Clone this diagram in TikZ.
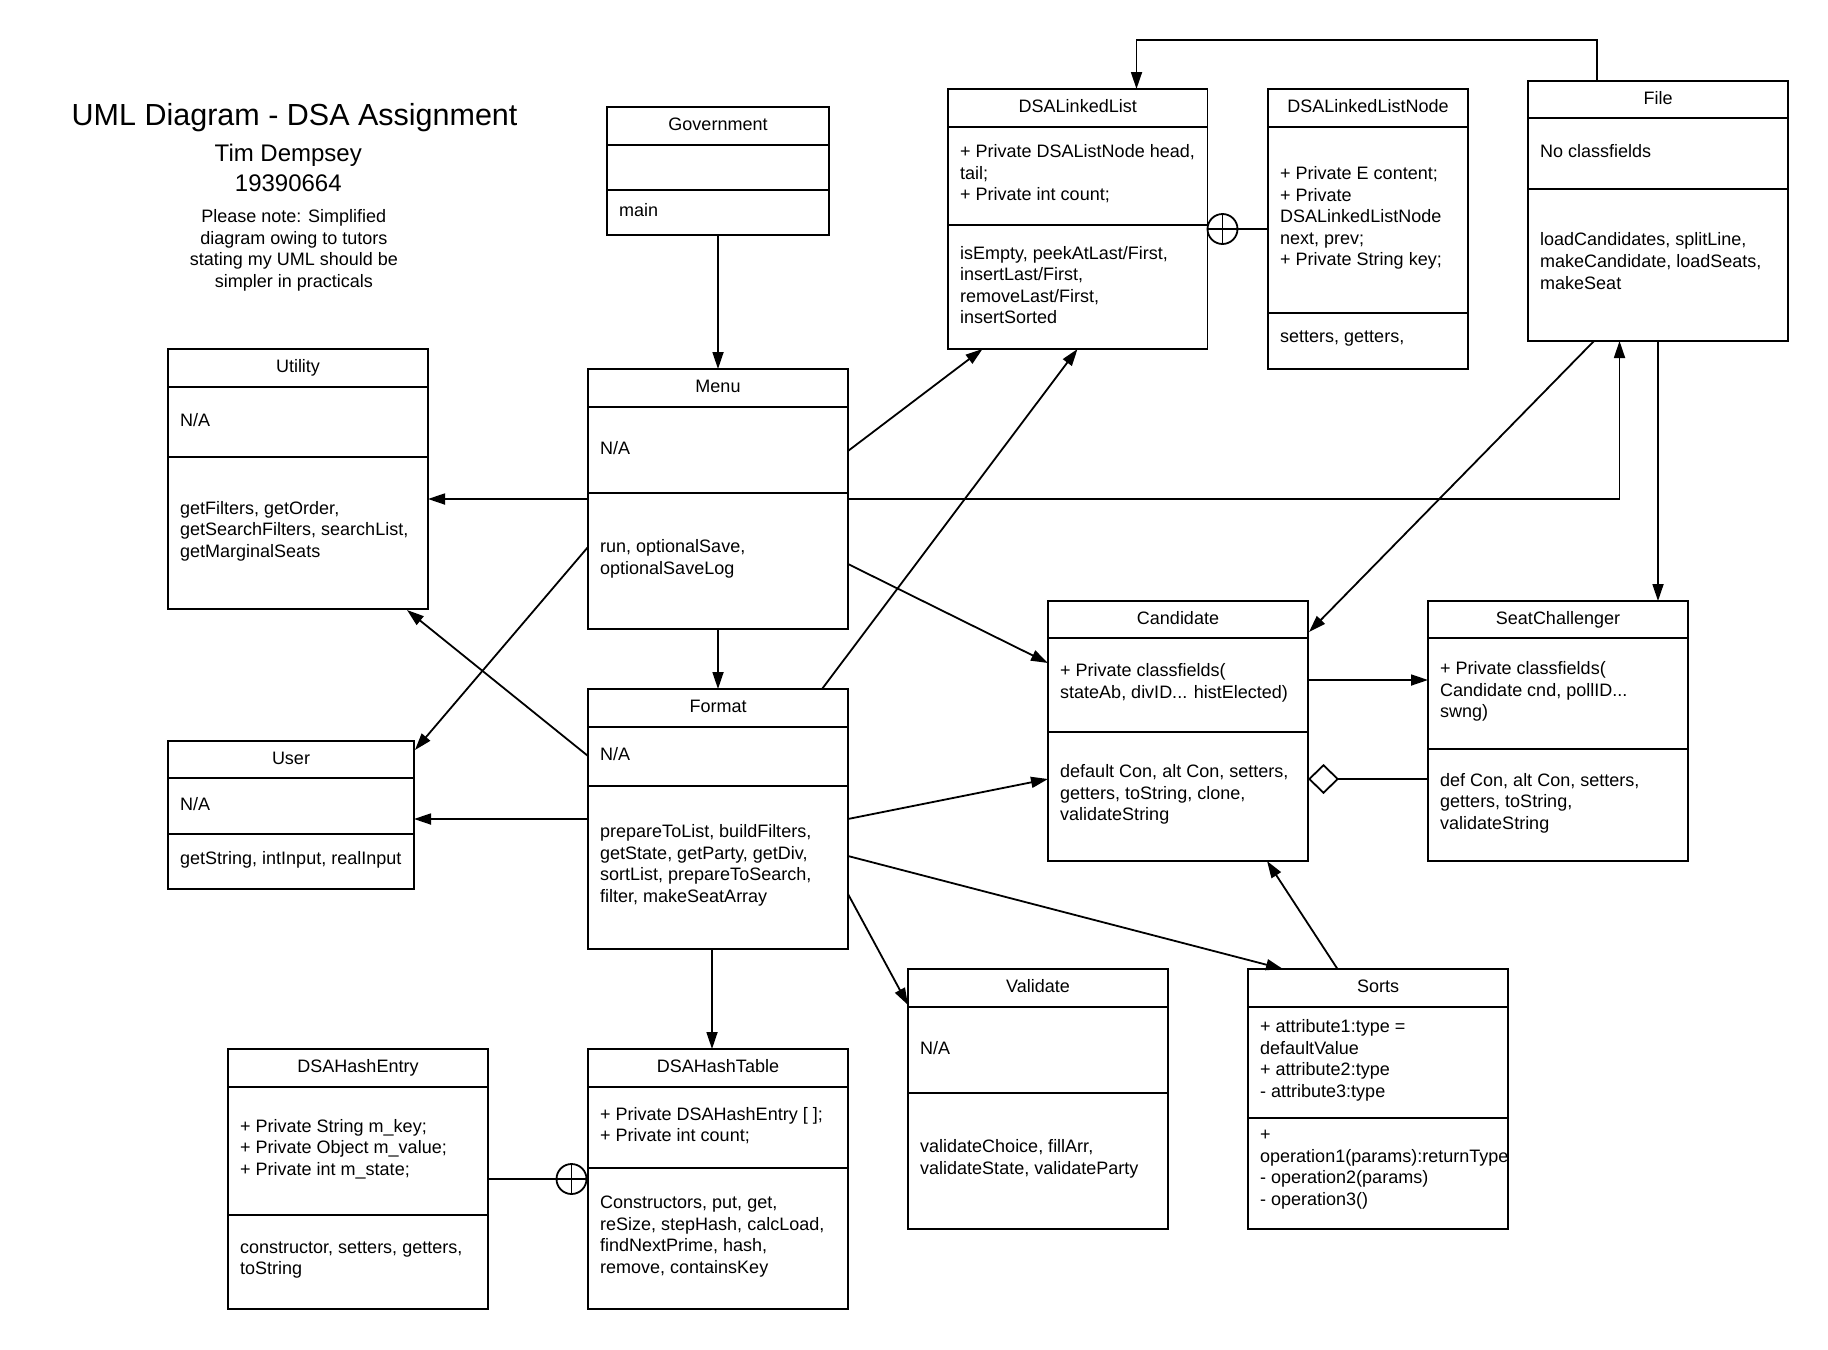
\documentclass[tikz,border=0pt]{standalone}
\usepackage{fontspec}
\setmainfont{Liberation Sans}
\usetikzlibrary{arrows.meta,calc}

\newcommand{\bodyfont}{\fontsize{18pt}{21.6pt}\selectfont}

\tikzset{
  classbox/.style={draw, line width=1.8pt, inner sep=0pt, outer sep=0pt, anchor=north west},
  divider/.style={line width=1.8pt},
  header/.style={font=\bodyfont, inner sep=0pt, text height=13pt, text depth=4pt},
  comptext/.style={font=\bodyfont, inner sep=0pt, anchor=west, align=left},
  conn/.style={line width=1.8pt},
  arr/.style={conn, -{Triangle[length=17pt,width=11pt]}},
  aggr/.style={conn, -{Diamond[open,length=31pt,width=30pt]}},
  nest/.style={draw, circle, line width=1.8pt, minimum size=30pt, inner sep=0pt, fill=white,
    path picture={\draw[line width=1.8pt]
      (path picture bounding box.north) -- (path picture bounding box.south)
      (path picture bounding box.west) -- (path picture bounding box.east);}},
  titletext/.style={anchor=base, inner sep=0pt}
}

% class box: name, x1, y1, x2, y2, first divider, second divider, class name
\newcommand{\umlclass}[8]{%
  \node[classbox, minimum width={(#4-#2)*1pt}, minimum height={(#5-#3)*1pt}] (#1) at (#2,#3) {};
  \draw[divider] (#2,#6) -- (#4,#6) (#2,#7) -- (#4,#7);
  \node[header] (#1-name) at ({(#2+#4)/2},{(#3+#6)/2}) {#8};
}
% compartment text: name, left x of box, top y, bottom y, text
\newcommand{\compart}[5]{%
  \node[comptext] (#1) at ({#2+12},{(#3+#4)/2-2}) {#5};
}

\begin{document}
\begin{tikzpicture}[x=1pt, y=-1pt]
\fill[white] (0,0) rectangle (1828,1349);
\useasboundingbox (0,0) rectangle (1828,1349);

% heading and note
\node[titletext, font=\fontsize{30.5pt}{36pt}\selectfont] (title) at (294.6,125) {UML Diagram - DSA Assignment};
\node[titletext, font=\fontsize{24pt}{29pt}\selectfont] (author) at (288.3,161.5) {Tim Dempsey};
\node[titletext, font=\fontsize{24pt}{29pt}\selectfont] (sid) at (288.3,191) {19390664};
\node[titletext, font=\bodyfont] (note1) at (293.8,222.5) {Please note: Simplified};
\node[titletext, font=\bodyfont] (note2) at (293.8,244) {diagram owing to tutors};
\node[titletext, font=\bodyfont] (note3) at (293.8,265.5) {stating my UML should be};
\node[titletext, font=\bodyfont] (note4) at (293.8,287) {simpler in practicals};

% classes
\umlclass{gov}{607}{107}{829}{235}{145}{190}{Government}
\compart{gov-m}{607}{190}{235}{main}

\umlclass{dll}{948}{89}{1207.5}{349}{127}{225}{DSALinkedList}
\compart{dll-a}{948}{127}{225}{+ Private DSAListNode head,\\tail;\\+ Private int count;}
\compart{dll-m}{948}{225}{349}{isEmpty, peekAtLast/First,\\insertLast/First,\\removeLast/First,\\insertSorted}

\umlclass{dlln}{1268}{89}{1468}{369}{127}{313}{DSALinkedListNode}
\compart{dlln-a}{1268}{127}{313}{+ Private E content;\\+ Private\\DSALinkedListNode\\next, prev;\\+ Private String key;}
\compart{dlln-m}{1268}{313}{369}{setters, getters,}

\umlclass{file}{1528}{81}{1788}{341}{118}{189}{File}
\compart{file-a}{1528}{118}{189}{No classfields}
\compart{file-m}{1528}{189}{337}{loadCandidates, splitLine,\\makeCandidate, loadSeats,\\makeSeat}

\umlclass{util}{168}{349}{428}{609}{387}{457}{Utility}
\compart{util-a}{168}{387}{457}{N/A}
\compart{util-m}{168}{457}{609}{getFilters, getOrder,\\getSearchFilters, searchList,\\getMarginalSeats}

\umlclass{menu}{588}{369}{848}{629}{407}{493}{Menu}
\compart{menu-a}{588}{407}{493}{N/A}
\compart{menu-m}{588}{493}{629}{run, optionalSave,\\optionalSaveLog}

\umlclass{format}{588}{689}{848}{949}{727}{786}{Format}
\compart{format-a}{588}{727}{786}{N/A}
\compart{format-m}{588}{786}{949}{prepareToList, buildFilters,\\getState, getParty, getDiv,\\sortList, prepareToSearch,\\filter, makeSeatArray}

\umlclass{user}{168}{741}{414}{889}{778}{834}{User}
\compart{user-a}{168}{778}{834}{N/A}
\compart{user-m}{168}{834}{889}{getString, intInput, realInput}

\umlclass{cand}{1048}{601}{1308}{861}{638}{732}{Candidate}
\compart{cand-a}{1048}{638}{732}{+ Private classfields(\\stateAb, divID... histElected)}
\compart{cand-m}{1048}{732}{861}{default Con, alt Con, setters,\\getters, toString, clone,\\validateString}

\umlclass{seat}{1428}{601}{1688}{861}{638}{749}{SeatChallenger}
\compart{seat-a}{1428}{638}{749}{+ Private classfields(\\Candidate cnd, pollID...\\swng)}
\compart{seat-m}{1428}{749}{861}{def Con, alt Con, setters,\\getters, toString,\\validateString}

\umlclass{hentry}{228}{1049}{488}{1309}{1087}{1215}{DSAHashEntry}
\compart{hentry-a}{228}{1087}{1215}{+ Private String m\_key;\\+ Private Object m\_value;\\+ Private int m\_state;}
\compart{hentry-m}{228}{1215}{1309}{constructor, setters, getters,\\toString}

\umlclass{htable}{588}{1049}{848}{1309}{1087}{1168}{DSAHashTable}
\compart{htable-a}{588}{1087}{1168}{+ Private DSAHashEntry [ ];\\+ Private int count;}
\compart{htable-m}{588}{1168}{1309}{Constructors, put, get,\\reSize, stepHash, calcLoad,\\findNextPrime, hash,\\remove, containsKey}

\umlclass{valid}{908}{969}{1168}{1229}{1007}{1093}{Validate}
\compart{valid-a}{908}{1007}{1093}{N/A}
\compart{valid-m}{908}{1093}{1229}{validateChoice, fillArr,\\validateState, validateParty}

\umlclass{sorts}{1248}{969}{1508}{1229}{1007}{1118}{Sorts}
\compart{sorts-a}{1248}{1007}{1118}{+ attribute1:type =\\defaultValue\\+ attribute2:type\\- attribute3:type}
\compart{sorts-m}{1248}{1118}{1225}{+\\operation1(params):returnType\\- operation2(params)\\- operation3()}

% nesting symbols
\node[nest] (nestA) at (1222.5,229) {};
\node[nest] (nestB) at (571.5,1179) {};
\draw[conn] (nestA.east) -- (nestA.east -| dlln.west);
\draw[conn] (hentry.east) -- (nestB.west);

% dependencies
\draw[arr] (gov.south) -- (gov.south |- menu.north);
\draw[arr] (menu.south) -- (format.north);
\draw[arr] ([xshift=-6pt]format.south) -- ([xshift=-6pt]format.south |- htable.north);
\draw[arr] ($(menu.north west)+(0,130)$) coordinate (m1) -- (m1 -| util.east);
\draw[arr] ($(menu.north east)+(0,130)$) -| ($(file.south west)+(91.5,0)$);
\draw[arr] ($(menu.north east)+(0,82)$) -- ($(dll.south west)+(34.5,0)$);
\draw[arr] ($(format.north west)+(234,0)$) -- ($(dll.south west)+(129.5,0)$);
\draw[arr] ($(menu.north west)+(0,178)$) -- ($(user.north east)+(1,9)$);
\draw[arr] ($(format.north west)+(0,67)$) -- ($(util.south east)+(-21,1)$);
\draw[arr] ($(format.north west)+(0,130)$) coordinate (f1) -- (f1 -| user.east);
\draw[arr] ($(menu.north east)+(0,195)$) -- ($(cand.north west)+(0,62)$);
\draw[arr] ($(format.north east)+(0,130)$) -- ($(cand.north west)+(0,178)$);
\draw[arr] ($(format.north east)+(0,167)$) -- ($(sorts.north west)+(35,0)$);
\draw[arr] ($(format.north east)+(0,205)$) -- ($(valid.north west)+(0,36)$);
\draw[arr] ($(file.south west)+(66,0)$) -- ($(cand.north east)+(1,31)$);
\draw[arr] ($(sorts.north west)+(89.5,0)$) -- ($(cand.south west)+(219,0)$);
\draw[arr] ($(cand.north east)+(0,79)$) coordinate (c1) -- (c1 -| seat.west);
\draw[aggr] ($(seat.north west)+(0,178)$) coordinate (s1) -- (s1 -| cand.east);
\draw[arr] (file.south) -- (file.south |- seat.north);
\draw[arr] ($(file.north west)+(69,0)$) -- ++(0,-41) -| ($(dll.north west)+(188.5,0)$);
\end{tikzpicture}
\end{document}
